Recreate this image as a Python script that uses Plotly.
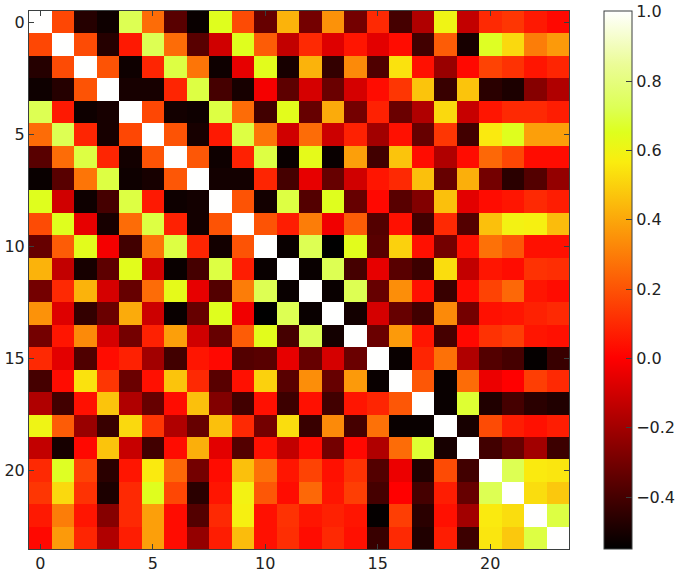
import plotly.graph_objects as go

row00 = [1, .17, -.47, -.52, .72, .26, -.36, -.53, .65, .18, -.33, .43, -.3, .35, -.3, .1, -.4, -.17, .6, -.13, .1, .13, .06, .02]
row01 = [1, .18, -.47, .06, .72, .26, -.36, -.1, .65, .22, -.13, .1, -.07, .05, -.06, .03, -.41, .22, -.5, .66, .52, .3, .37]
row02 = [1, .2, -.52, .09, .7, .28, -.52, -.05, .64, -.5, .43, -.44, .33, -.38, .54, .04, -.22, .02, .16, .12, .05, .09]
row03 = [1, -.5, -.5, .09, .7, -.4, -.5, -.02, -.35, -.09, -.32, -.09, .03, .13, .47, -.43, .47, -.46, -.49, -.26, -.17]
row04 = [1, .17, -.51, -.52, .7, .26, -.41, .64, -.33, .41, -.3, .08, -.32, -.17, .52, -.12, .05, .1, .1, .07]
row05 = [1, .2, -.5, .06, .7, .28, -.1, .26, -.11, .08, -.2, .04, -.33, .13, -.41, .56, .65, .38, .38]
row06 = [1, .21, -.52, .08, .7, -.53, .63, -.53, .38, -.41, .47, .03, -.17, .03, .25, .17, .03, .03]
row07 = [1, -.51, -.51, .09, -.4, -.05, -.33, -.1, .05, .1, .46, -.33, .42, -.3, -.46, -.37, -.23]
row08 = [1, .2, -.51, .7, -.37, .65, -.33, .02, -.36, -.27, .46, -.06, .03, .05, .1, .07]
row09 = [1, .2, .07, .3, -.03, .22, -.37, .04, -.41, .1, -.37, .46, .59, .58, .45]
row10 = [1, -.53, .72, -.55, .64, -.36, .5, .04, -.3, .04, .27, .21, .04, .04]
row11 = [1, -.53, .72, -.4, -.05, -.36, -.42, .53, -.13, .05, .03, .12, .11]
row12 = [1, -.53, .72, -.33, .34, .04, -.43, .03, .16, .25, .05, .03]
row13 = [1, -.51, -.09, -.33, -.41, .33, -.3, .04, .05, .08, .1]
row14 = [1, -.32, .37, .05, -.4, .02, .12, .15, .05, .04]
row15 = [1, -.53, .09, .27, -.17, -.37, -.4, -.54, -.43]
row16 = [1, .21, -.53, .26, -.04, 0, .15, .1]
row17 = [1, -.53, .68, -.48, -.4, -.46, -.48]
row18 = [1, -.5, .18, .07, .04, .07]
row19 = [1, -.41, -.33, -.2, -.42]
row20 = [1, .72, .56, .55]
row21 = [1, .53, .48]
row22 = [1, .7]
row23 = [1]
upper_rows = [row00, row01, row02, row03, row04, row05, row06, row07, row08, row09, row10, row11,
              row12, row13, row14, row15, row16, row17, row18, row19, row20, row21, row22, row23]

axis_ticks = [0, 5, 10, 15, 20]
colorbar_ticks = [-0.4, -0.2, 0.0, 0.2, 0.4, 0.6, 0.8, 1.0]
colorbar_labels = ["\u22120.4", "\u22120.2", "0.0", "0.2", "0.4", "0.6", "0.8", "1.0"]

n = len(upper_rows)
z = [[0.0] * n for _ in range(n)]
for i, r in enumerate(upper_rows):
    for k, v in enumerate(r):
        z[i][i + k] = v
        z[i + k][i] = v

colorscale = [
    [0.0, "rgb(0,0,0)"],
    [0.355, "rgb(255,0,0)"],
    [0.72, "rgb(250,237,15)"],
    [0.775, "rgb(222,255,30)"],
    [0.82, "rgb(221,255,85)"],
    [0.9, "rgb(235,252,150)"],
    [1.0, "rgb(255,255,255)"],
]

W, H = 685, 573
L, R, T, B = 29, 569, 11, 549
FRAME = "#3a3f3f"
FONT = dict(family="DejaVu Sans", size=16, color="#222222")

fig = go.Figure(go.Heatmap(
    z=z,
    colorscale=colorscale,
    zmin=-0.55,
    zmax=1.002,
    colorbar=dict(
        x=604 / W, xanchor="left", xpad=0,
        y=1 - B / H, yanchor="bottom", ypad=0,
        thickness=28, thicknessmode="pixels",
        len=B - T, lenmode="pixels",
        tickvals=colorbar_ticks, ticktext=colorbar_labels,
        ticks="inside", ticklen=6, tickcolor=FRAME, tickwidth=1,
        tickfont=FONT,
        outlinecolor=FRAME, outlinewidth=1,
    ),
))

axis_common = dict(
    tickvals=axis_ticks, ticktext=[str(t) for t in axis_ticks],
    ticks="inside", ticklen=5, tickwidth=1, tickcolor=FRAME,
    mirror="ticks", showline=True, linecolor=FRAME, linewidth=1,
    showgrid=False, zeroline=False, tickfont=FONT,
)
fig.update_layout(
    width=W, height=H, autosize=False,
    margin=dict(l=0, r=0, t=0, b=0, autoexpand=False),
    paper_bgcolor="white", plot_bgcolor="white",
    xaxis=dict(domain=[L / W, R / W], range=[-0.5, n - 0.5], **axis_common),
    yaxis=dict(domain=[1 - B / H, 1 - T / H], range=[n - 0.5, -0.5], **axis_common),
)
fig.write_html(
    "out.html",
    config={"displayModeBar": False},
    post_script="document.body.style.margin='0';document.documentElement.style.overflow='hidden';",
)
